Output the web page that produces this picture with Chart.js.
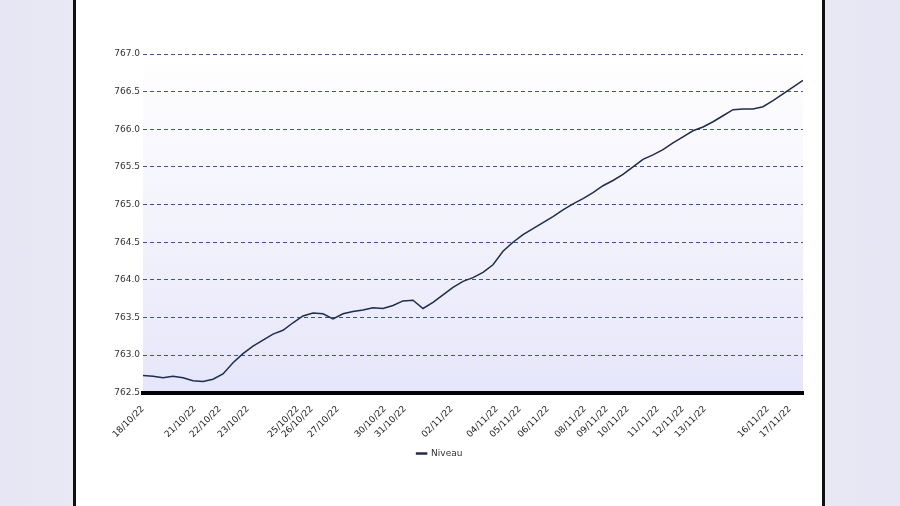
<!DOCTYPE html>
<html>
<head>
<meta charset="utf-8">
<script src="https://cdn.jsdelivr.net/npm/chart.js@4"></script>
<style>
  html, body { margin: 0; padding: 0; }
  body { width: 900px; height: 506px; overflow: hidden; position: relative;
         background: linear-gradient(90deg, #e6e6f4, #f4f4fb 40%, #e6e6f4); }
  #frame { position: absolute; left: 73px; top: 0; width: 752px; height: 506px; background: #111; }
  #panel { position: absolute; left: 76px; top: 0; width: 746px; height: 506px; background: #fff; }
</style>
</head>
<body>
<div id="frame"></div>
<div id="panel"><canvas id="chart" width="746" height="506"></canvas></div>
<script>
// water level readings, one sample per index step
const levels = [
  762.73, 762.72, 762.70, 762.72, 762.70, 762.66, 762.65, 762.68, 762.75, 762.90,
  763.02, 763.12, 763.20, 763.28, 763.33, 763.43, 763.52, 763.56, 763.55, 763.48,
  763.55, 763.58, 763.60, 763.63, 763.62, 763.66, 763.72, 763.73, 763.62, 763.70,
  763.80, 763.90, 763.98, 764.03, 764.10, 764.20, 764.38, 764.50, 764.60, 764.68,
  764.76, 764.84, 764.93, 765.01, 765.08, 765.16, 765.25, 765.32, 765.40, 765.50,
  765.60, 765.66, 765.73, 765.82, 765.90, 765.98, 766.03, 766.10, 766.18, 766.26,
  766.27, 766.27, 766.30, 766.38, 766.47, 766.56, 766.65
];
// date labels and the sample index where each one sits
const dateLabels = ['18/10/22','21/10/22','22/10/22','23/10/22','25/10/22','26/10/22','27/10/22',
  '30/10/22','31/10/22','02/11/22','04/11/22','05/11/22','06/11/22','08/11/22','09/11/22',
  '10/11/22','11/11/22','12/11/22','13/11/22','16/11/22','17/11/22'];
const datePos = [0, 5.2, 7.7, 10.5, 15.5, 16.9, 19.5, 24.2, 26.2, 30.9, 35.4, 37.7, 40.5,
  44.2, 46.4, 48.5, 51.5, 54, 56.2, 62.5, 64.7];

const points = levels.map((v, i) => ({ x: i, y: v }));

const plotBg = {
  id: 'plotBg',
  beforeDraw(chart) {
    const { ctx, chartArea: a } = chart;
    const g = ctx.createLinearGradient(0, a.top, 0, a.bottom);
    g.addColorStop(0, '#ffffff');
    g.addColorStop(1, '#e6e6fa');
    ctx.save();
    ctx.fillStyle = g;
    ctx.fillRect(a.left, a.top, a.right - a.left, a.bottom - a.top);
    ctx.restore();
  }
};

new Chart(document.getElementById('chart').getContext('2d'), {
  type: 'line',
  data: {
    datasets: [{
      label: 'Niveau', data: points, borderColor: '#1f2d4f', borderWidth: 1.5,
      pointRadius: 0, fill: false, tension: 0
    }]
  },
  options: {
    responsive: false, animation: false,
    layout: { padding: { top: 54, right: 19, left: 0, bottom: 38 } },
    plugins: {
      legend: {
        position: 'bottom',
        labels: { boxWidth: 10, boxHeight: 1, color: '#333', font: { family: 'DejaVu Sans', size: 9 }, padding: 6 }
      },
      tooltip: { enabled: false }
    },
    scales: {
      x: {
        type: 'linear', min: 0, max: levels.length - 1,
        afterBuildTicks(s) { s.ticks = datePos.map(v => ({ value: v })); },
        ticks: {
          autoSkip: false, maxRotation: 45, minRotation: 45, color: '#222',
          font: { family: 'DejaVu Sans', size: 9 },
          callback: (v, i) => dateLabels[i]
        },
        grid: { display: false },
        border: { color: '#000', width: 4, dash: [2, 1] }
      },
      y: {
        min: 762.5, max: 767.0,
        afterFit(s) { s.width = 67; },
        ticks: { stepSize: 0.5, color: '#333', font: { family: 'DejaVu Sans', size: 9 },
                 callback: v => v.toFixed(1) },
        grid: { color: '#3b5594', lineWidth: 1, drawTicks: false },
        border: { display: false, dash: [4, 3] }
      }
    }
  },
  plugins: [plotBg]
});
</script>
</body>
</html>
